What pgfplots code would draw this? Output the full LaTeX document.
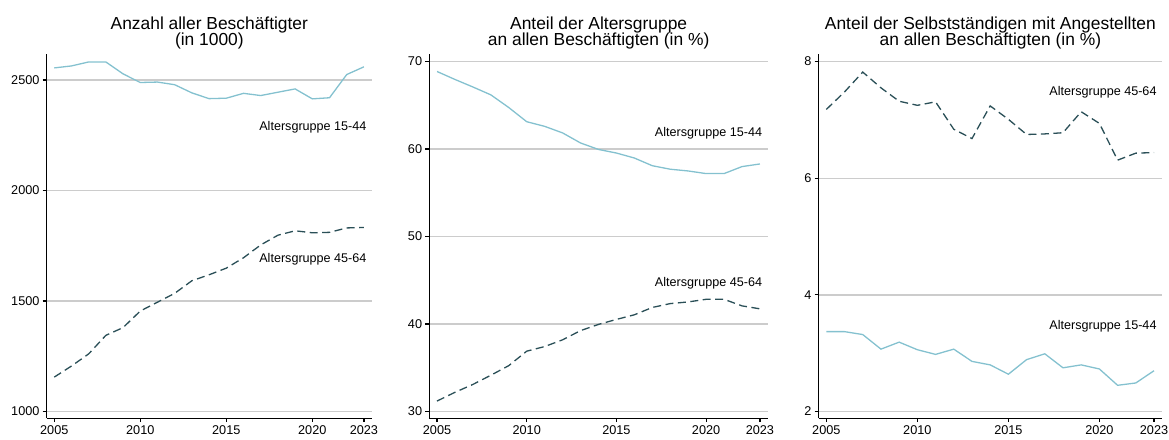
\documentclass[border=0pt]{standalone}
\usepackage{pgfplots}
\pgfplotsset{compat=1.18}
\usepackage{fontspec}
\setmainfont{Liberation Sans}
\definecolor{lblue}{HTML}{84C1CF}
\definecolor{dslate}{HTML}{2A4F57}
\definecolor{gridgray}{HTML}{CCCCCC}
\pgfplotsset{
  panel/.style={
    scale only axis,
    anchor=south west,
    height=364.2pt,
    axis x line*=bottom,
    axis y line*=left,
    axis line style={-, black, line width=1.3pt},
    ymajorgrids,
    major grid style={gridgray, line width=1.3pt},
    tick align=outside,
    major tick length=4pt,
    tick style={black, line width=1.2pt},
    xtick={2005,2010,2015,2020,2023},
    /pgf/number format/1000 sep={},
    /pgf/number format/assume math mode=true,
    ticklabel style={font=\fontsize{12.7}{14}\selectfont},
    yticklabel style={inner sep=3pt},
    xticklabel style={inner sep=3pt},
    clip=false,
  },
  young/.style={lblue, line width=1.3pt, solid},
  old/.style={dslate, line width=1.3pt, dash pattern=on 8pt off 4.5pt},
}
\newcommand{\lab}{\fontsize{12.6}{14}\selectfont}
\newcommand{\ttl}{\fontsize{17.4}{18}\selectfont}
\begin{document}
\begin{tikzpicture}
% Panel 1
\begin{axis}[panel, at={(46.7pt,20.8pt)}, width=325.3pt,
  xmin=2004.56, xmax=2023.47, ymin=970, ymax=2618,
  ytick={1000,1500,2000,2500}]
\addplot[young] coordinates {(2005,2555)(2006,2564)(2007,2582)(2008,2582)(2009,2528)(2010,2489)(2011,2491)(2012,2479)(2013,2442)(2014,2416)(2015,2418)(2016,2440)(2017,2430)(2018,2445)(2019,2460)(2020,2415)(2021,2420)(2022,2525)(2023,2560)};
\addplot[old] coordinates {(2005,1156)(2006,1206)(2007,1261)(2008,1345)(2009,1380)(2010,1455)(2011,1495)(2012,1535)(2013,1592)(2014,1619)(2015,1649)(2016,1696)(2017,1754)(2018,1798)(2019,1818)(2020,1809)(2021,1811)(2022,1831)(2023,1833)};
\node[anchor=base east, inner sep=0pt, font=\lab] at (axis cs:2023.16,2274) {Altersgruppe 15-44};
\node[anchor=base east, inner sep=0pt, font=\lab] at (axis cs:2023.16,1676) {Altersgruppe 45-64};
\node[anchor=base, inner sep=0pt, font=\ttl] at ([yshift=24.7pt]rel axis cs:0.5,1) {Anzahl aller Beschäftigter};
\node[anchor=base, inner sep=0pt, font=\ttl] at ([yshift=8pt]rel axis cs:0.5,1) {(in 1000)};
\end{axis}
% Panel 2
\begin{axis}[panel, at={(429.3pt,20.8pt)}, width=338.7pt,
  xmin=2004.57, xmax=2023.45, ymin=29.24, ymax=70.87,
  ytick={30,40,50,60,70}]
\addplot[young] coordinates {(2005,68.87)(2006,67.96)(2007,67.1)(2008,66.2)(2009,64.75)(2010,63.13)(2011,62.6)(2012,61.85)(2013,60.7)(2014,59.96)(2015,59.55)(2016,58.98)(2017,58.1)(2018,57.7)(2019,57.5)(2020,57.2)(2021,57.2)(2022,58.0)(2023,58.3)};
\addplot[old] coordinates {(2005,31.2)(2006,32.2)(2007,33.1)(2008,34.15)(2009,35.25)(2010,36.9)(2011,37.43)(2012,38.2)(2013,39.25)(2014,39.96)(2015,40.53)(2016,41.06)(2017,41.9)(2018,42.34)(2019,42.53)(2020,42.83)(2021,42.83)(2022,42.08)(2023,41.74)};
\node[anchor=base east, inner sep=0pt, font=\lab] at (axis cs:2023.13,61.43) {Altersgruppe 15-44};
\node[anchor=base east, inner sep=0pt, font=\lab] at (axis cs:2023.13,44.35) {Altersgruppe 45-64};
\node[anchor=base, inner sep=0pt, font=\ttl] at ([yshift=24.7pt]rel axis cs:0.5,1) {Anteil der Altersgruppe};
\node[anchor=base, inner sep=0pt, font=\ttl] at ([yshift=8pt]rel axis cs:0.5,1) {an allen Beschäftigten (in \%)};
\end{axis}
% Panel 3
\begin{axis}[panel, at={(818.7pt,20.8pt)}, width=343.3pt,
  xmin=2004.58, xmax=2023.44, ymin=1.886, ymax=8.13,
  ytick={2,4,6,8}]
\addplot[young] coordinates {(2005,3.37)(2006,3.37)(2007,3.32)(2008,3.07)(2009,3.19)(2010,3.06)(2011,2.98)(2012,3.07)(2013,2.86)(2014,2.80)(2015,2.64)(2016,2.89)(2017,2.99)(2018,2.75)(2019,2.80)(2020,2.73)(2021,2.45)(2022,2.49)(2023,2.70)};
\addplot[old] coordinates {(2005,7.18)(2006,7.48)(2007,7.82)(2008,7.55)(2009,7.32)(2010,7.25)(2011,7.31)(2012,6.84)(2013,6.68)(2014,7.24)(2015,7.01)(2016,6.75)(2017,6.76)(2018,6.78)(2019,7.14)(2020,6.94)(2021,6.31)(2022,6.43)(2023,6.44)};
\node[anchor=base east, inner sep=0pt, font=\lab] at (axis cs:2023.15,3.40) {Altersgruppe 15-44};
\node[anchor=base east, inner sep=0pt, font=\lab] at (axis cs:2023.15,7.417) {Altersgruppe 45-64};
\node[anchor=base, inner sep=0pt, font=\ttl] at ([yshift=24.7pt]rel axis cs:0.5,1) {Anteil der Selbstständigen mit Angestellten};
\node[anchor=base, inner sep=0pt, font=\ttl] at ([yshift=8pt]rel axis cs:0.5,1) {an allen Beschäftigten (in \%)};
\end{axis}
\pgfresetboundingbox
\useasboundingbox (0pt,0pt) rectangle (1169pt,439pt);
\end{tikzpicture}
\end{document}
